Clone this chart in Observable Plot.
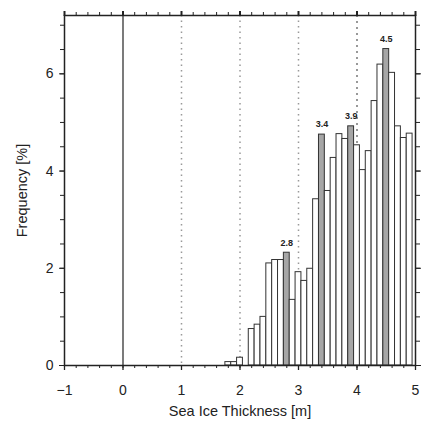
<!DOCTYPE html>
<html>
<head>
<meta charset="utf-8">
<script src="https://cdn.jsdelivr.net/npm/d3@7"></script>
<script src="https://cdn.jsdelivr.net/npm/@observablehq/plot@0.6"></script>
<style>
  html, body { margin: 0; padding: 0; background: #fff; }
</style>
</head>
<body>
<div id="chart"></div>
<script>
// Histogram bin centres (m) and frequency (%) of sea ice thickness
const thickness = [1.8, 1.9, 2.0, 2.1, 2.2, 2.3, 2.4, 2.5, 2.6, 2.7, 2.8, 2.9,
                   3.0, 3.1, 3.2, 3.3, 3.4, 3.5, 3.6, 3.7, 3.8, 3.9,
                   4.0, 4.1, 4.2, 4.3, 4.4, 4.5, 4.6, 4.7, 4.8, 4.9];
const frequency = [0.07, 0.07, 0.16, 0.0, 0.75, 0.84, 1.0, 2.1, 2.17, 2.17, 2.32, 1.35,
                   1.92, 1.74, 1.99, 3.42, 4.75, 3.59, 4.27, 4.76, 4.66, 4.92,
                   4.53, 4.02, 4.41, 5.44, 6.19, 6.51, 6.02, 4.92, 4.68, 4.77];
// Local maxima that are shaded and annotated
const peaks = [2.8, 3.4, 3.9, 4.5];

const binWidth = 0.1;
const xMajorTicks = [-1, 0, 1, 2, 3, 4, 5];
const xMinorTicks = d3.range(0, 31).map(i => +(-1 + i * 0.2).toFixed(1));
const yLabelTicks = [0, 2, 4, 6];
const yMinorTicks = d3.range(0, 15).map(i => i * 0.5);
const dottedRefs = [1, 2, 3];
const dashedRefs = [4];
const solidRefs = [0];

const bins = thickness.map((t, i) => ({t, f: frequency[i], peak: peaks.includes(t)}));
const peakBins = bins.filter(d => d.peak);

const blank = () => "";

const chart = Plot.plot({
  width: 426,
  height: 427,
  marginLeft: 64,
  marginRight: 11,
  marginTop: 15,
  marginBottom: 62,
  style: {fontFamily: "'Liberation Sans', Arial, sans-serif", fontSize: "14px", color: "#222", background: "#fff"},
  x: {domain: [-1, 5]},
  y: {domain: [0, 7.2]},
  marks: [
    // reference lines
    Plot.ruleX(dottedRefs, {stroke: "#999", strokeWidth: 1.5, strokeDasharray: "1.5,4"}),
    Plot.ruleX(dashedRefs, {stroke: "#555", strokeWidth: 1.2, strokeDasharray: "2,4"}),
    Plot.ruleX(solidRefs, {stroke: "#222", strokeWidth: 1.2}),
    // histogram bars
    Plot.rectY(bins, {
      x1: d => d.t - binWidth / 2,
      x2: d => d.t + binWidth / 2,
      y1: 0,
      y2: "f",
      fill: d => d.peak ? "#a6a6a6" : "#fff",
      stroke: "#333",
      strokeWidth: 1
    }),
    Plot.text(peakBins, {
      x: "t", y: "f", text: d => d.t.toFixed(1),
      dy: -10, fontSize: 9, fontWeight: "bold", fill: "#222"
    }),
    // axes: bottom
    Plot.axisX({anchor: "bottom", ticks: xMajorTicks, tickSize: 5, tickPadding: 15, strokeWidth: 1.3, label: null, tickFormat: d => d < 0 ? "\u2212" + Math.abs(d) : String(d)}),
    Plot.axisX({anchor: "bottom", ticks: xMinorTicks, tickSize: 3, tickFormat: blank, label: null}),
    // axes: top
    Plot.axisX({anchor: "top", ticks: xMajorTicks, tickSize: 5, strokeWidth: 2, tickFormat: blank, label: null}),
    Plot.axisX({anchor: "top", ticks: xMinorTicks, tickSize: 4, tickFormat: blank, label: null}),
    // axes: left
    Plot.axisY({anchor: "left", ticks: yLabelTicks, tickSize: 5, tickPadding: 6, label: null}),
    Plot.axisY({anchor: "left", ticks: yMinorTicks, tickSize: 4, tickFormat: blank, label: null}),
    // axes: right
    Plot.axisY({anchor: "right", ticks: yLabelTicks, tickSize: 5, tickFormat: blank, label: null}),
    Plot.axisY({anchor: "right", ticks: yMinorTicks, tickSize: 4, tickFormat: blank, label: null}),
    Plot.frame({stroke: "#222", strokeWidth: 1.5}),
    // axis titles
    Plot.text(["Sea Ice Thickness [m]"], {frameAnchor: "bottom", lineAnchor: "middle", dy: 46, fontSize: 14.5, fill: "#222"}),
    Plot.text(["Frequency [%]"], {frameAnchor: "left", textAnchor: "middle", lineAnchor: "middle", dx: -42, rotate: -90, fontSize: 14.5, fill: "#222"})
  ]
});

document.getElementById("chart").appendChild(chart);
</script>
</body>
</html>
